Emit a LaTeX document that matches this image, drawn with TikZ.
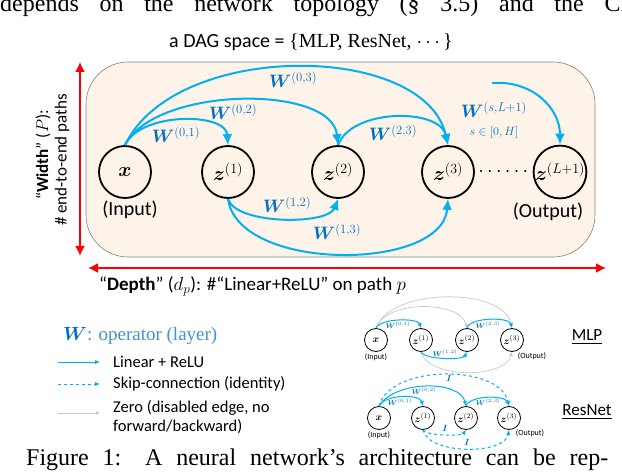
\RequirePackage{fix-cm}
\documentclass[tikz,border=0pt]{standalone}
\usepackage{amsmath,bm}
\usepackage[no-math]{fontspec}
\setmainfont{Carlito}
\newfontfamily\capfont{Liberation Serif}
\usetikzlibrary{arrows.meta,positioning}
\definecolor{linkblue}{RGB}{0,176,240}
\definecolor{wblue}{RGB}{0,112,192}
\definecolor{boxfill}{RGB}{253,243,233}
\definecolor{zerogray}{RGB}{200,200,200}

\begin{document}
\begin{tikzpicture}[x=1pt, y=1pt,
  neuron/.style={circle, draw=black, line width=1.8pt, minimum size=52pt, inner sep=0pt, font=\fontsize{20}{24}\selectfont},
  mini/.style={circle, draw=black, line width=0.8pt, minimum size=23pt, inner sep=0pt, font=\fontsize{10}{12}\selectfont},
  link/.style={line width=2pt, linkblue, -{Latex[length=11pt,width=10pt]}},
  minilink/.style={line width=1pt, linkblue, -{Latex[length=5pt,width=4.5pt]}},
  miniskip/.style={minilink, dashed},
  minizero/.style={line width=0.7pt, zerogray, -{Latex[length=4pt,width=4pt]}},
  wlab/.style={text=wblue, font=\fontsize{18}{22}\selectfont, inner sep=0pt},
  miniw/.style={text=wblue, font=\fontsize{7}{8}\selectfont, inner sep=0pt},
  ruler/.style={line width=1.6pt, red, {Latex[length=10pt,width=10pt]}-{Latex[length=10pt,width=10pt]}},
  io/.style={font=\fontsize{20}{24}\selectfont, inner sep=0pt},
  miniio/.style={font=\fontsize{8}{9}\selectfont, inner sep=0pt},
  legtext/.style={anchor=west, font=\fontsize{16.5}{19}\selectfont, inner sep=0pt},
  pagetext/.style={anchor=base west, font=\capfont\fontsize{24}{28}\selectfont, inner sep=0pt},
]
  \useasboundingbox[fill=white] (0,0) rectangle (622,-476);

  % surrounding page text
  \node[pagetext] (prevline) at (0,-12) {\makebox[655pt][s]{depends on the network topology (§ 3.5) and the CNN}};
  \node[pagetext] (caption) at (26,-465) {\makebox[582pt][s]{Figure 1: A neural network’s architecture can be rep-}};

  \node[font=\fontsize{20}{24}\selectfont] (title) at (311,-42) {a DAG space = {\capfont\{MLP, ResNet, $\cdots$\}}};

  \draw[gray, line width=0.6pt, fill=boxfill, rounded corners=42pt] (86,-62) rectangle (595,-257);

  % main DAG
  \foreach \n/\xx/\lab in {x/125/{\bm{x}}, z1/228/{\bm{z}^{(1)}}, z2/338/{\bm{z}^{(2)}}, z3/448/{\bm{z}^{(3)}}, zL/560/{\bm{z}^{(L+1)}}}{
    \node[neuron] (\n) at (\xx,-172) {$\lab$};
  }
  \node[io] (inlab) at (130,-210) {(Input)};
  \node[io] (outlab) at (548,-212) {(Output)};
  \node[font=\fontsize{20}{24}\selectfont] (dots) at (505,-172) {$\cdots\cdots$};

  \draw[link] (x.north) .. controls (140,-112) and (226,-112) .. (z1.north);
  \draw[link] (x.north) .. controls (155,-86) and (332,-84) .. (z2.north);
  \draw[link] (x.north) .. controls (175,-40) and (425,-42) .. (z3.north);
  \draw[link] (z2.north) .. controls (352,-108) and (440,-108) .. (z3.north);
  \draw[link] (z1.south) .. controls (236,-225) and (328,-225) .. (z2.south);
  \draw[link] (z1.south) .. controls (238,-272) and (442,-272) .. (z3.south);
  \coordinate (sfree) at (492,-83);
  \draw[link] (sfree) .. controls (532,-80) and (560,-108) .. (zL.north);

  \foreach \p/\lab in {{176,-135}/{0,1}, {233,-112}/{0,2}, {293,-80}/{0,3}, {393,-133}/{2,3}, {287,-205}/{1,2}, {337,-232}/{1,3}, {494,-110}/{s,L+1}}{
    \node[wlab] at (\p) {$\bm{W}^{(\lab)}$};
  }
  \node[text=wblue, font=\fontsize{12}{14}\selectfont, inner sep=0pt] (srange) at (494,-133) {$s\in[0,H]$};

  % width and depth
  \coordinate (wtop) at (80,-62);
  \coordinate (wbot) at (80,-256);
  \draw[ruler] (wbot) -- (wtop);
  \node[rotate=90, font=\fontsize{17}{20}\selectfont] (widthlab) at (43,-155) {“\textbf{Width}” ($P$):};
  \node[rotate=90, font=\fontsize{17}{20}\selectfont] (pathslab) at (62,-160) {\# end-to-end paths};
  \coordinate (dleft) at (88,-268);
  \coordinate (dright) at (606,-268);
  \draw[ruler] (dleft) -- (dright);
  \node[anchor=west, font=\fontsize{19}{22}\selectfont, inner sep=0pt] (depthlab) at (99,-286) {“\textbf{Depth}” ($d_p$): \#“Linear+ReLU” on path $p$};

  % legend
  \node[anchor=west, inner sep=0pt] (legtitle) at (63,-336) {\fontsize{19}{22}\selectfont$\textcolor{wblue}{\bm{W}}$\textcolor{wblue!75}{\capfont: operator (layer)}};
  \foreach \n/\yy in {a/-362, b/-384, c/-413}{
    \coordinate (leg\n) at (58,\yy);
    \coordinate (leg\n end) at (100,\yy);
  }
  \draw[minilink] (lega) -- (legaend);
  \draw[miniskip] (legb) -- (legbend);
  \draw[minizero] (legc) -- (legcend);
  \node[legtext] (legatext) at (113,-362) {Linear + ReLU};
  \node[legtext] (legbtext) at (113,-384) {Skip-connection (identity)};
  \node[legtext, align=left] (legctext) at (113,-417) {Zero (disabled edge, no\\forward/backward)};

  % MLP thumbnail
  \foreach \n/\xx/\lab in {mx/376/{\bm{x}}, m1/421/{\bm{z}^{(1)}}, m2/467/{\bm{z}^{(2)}}, m3/512/{\bm{z}^{(3)}}}{
    \node[mini] (\n) at (\xx,-340) {$\lab$};
  }
  \draw[minizero] (mx.north) .. controls (385,-300) and (460,-300) .. (m2.north);
  \draw[minizero] (mx.north) .. controls (390,-287) and (505,-287) .. (m3.north);
  \draw[minizero] (m1.south) .. controls (428,-379) and (505,-379) .. (m3.south);
  \draw[minilink] (mx.north) .. controls (380,-318) and (418,-318) .. (m1.north);
  \draw[minilink] (m2.north) .. controls (470,-317) and (509,-317) .. (m3.north);
  \draw[minilink] (m1.south) .. controls (425,-360) and (463,-360) .. (m2.south);
  \node[miniw] at (398,-325) {$\bm{W}^{(0,1)}$};
  \node[miniw] at (488,-325) {$\bm{W}^{(2,3)}$};
  \node[miniw] at (445,-353) {$\bm{W}^{(1,2)}$};
  \node[miniio] (minin) at (376,-357) {(Input)};
  \node[miniio] (mout) at (532,-356) {(Output)};
  \node[font=\fontsize{17}{20}\selectfont] (mlplab) at (587,-337) {\underline{MLP}};

  % ResNet thumbnail
  \foreach \n/\xx/\lab in {rx/379/{\bm{x}}, r1/423/{\bm{z}^{(1)}}, r2/466/{\bm{z}^{(2)}}, r3/509/{\bm{z}^{(3)}}}{
    \node[mini] (\n) at (\xx,-418) {$\lab$};
  }
  \draw[miniskip] (rx.north) .. controls (390,-364) and (500,-364) .. (r3.north);
  \draw[minilink] (rx.north) .. controls (385,-394) and (420,-394) .. (r1.north);
  \draw[minilink] (rx.north) .. controls (395,-380) and (460,-380) .. (r2.north);
  \draw[minilink] (r2.north) .. controls (470,-395) and (505,-395) .. (r3.north);
  \draw[miniskip] (r1.south) .. controls (425,-436) and (462,-436) .. (r2.south);
  \draw[miniskip] (r1.south) .. controls (428,-455) and (505,-455) .. (r3.south);
  \node[miniw] at (400,-402) {$\bm{W}^{(0,1)}$};
  \node[miniw] at (424,-391) {$\bm{W}^{(0,2)}$};
  \node[miniw] at (488,-402) {$\bm{W}^{(2,3)}$};
  \foreach \p in {{449,-378}, {445,-428}, {467,-442}}{
    \node[miniw, font=\fontsize{9}{10}\selectfont] at (\p) {$\bm{I}$};
  }
  \node[miniio] (rin) at (379,-435) {(Input)};
  \node[miniio] (rout) at (530,-433) {(Output)};
  \node[font=\fontsize{17}{20}\selectfont] (reslab) at (587,-412) {\underline{ResNet}};
\end{tikzpicture}
\end{document}
